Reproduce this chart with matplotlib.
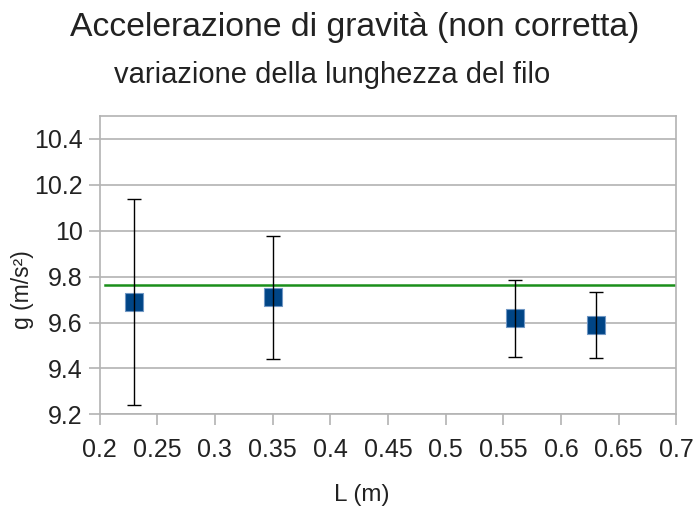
import numpy as np
import matplotlib
matplotlib.use('Agg')
import matplotlib.pyplot as plt

plt.rcParams['font.family'] = ['Liberation Sans', 'DejaVu Sans']

# Data
lengths = [0.23, 0.35, 0.56, 0.63]
g_values = [9.689, 9.710, 9.618, 9.588]
g_errors = [0.450, 0.267, 0.167, 0.143]
ref_x = [0.205, 0.70]
ref_g = [9.763, 9.763]

x_ticks = [0.2, 0.25, 0.3, 0.35, 0.4, 0.45, 0.5, 0.55, 0.6, 0.65, 0.7]
x_labels = ['0.2', '0.25', '0.3', '0.35', '0.4', '0.45', '0.5', '0.55', '0.6', '0.65', '0.7']
y_ticks = [9.2, 9.4, 9.6, 9.8, 10.0, 10.2, 10.4]
y_labels = ['9.2', '9.4', '9.6', '9.8', '10', '10.2', '10.4']

fig = plt.figure(figsize=(6.96, 5.08), dpi=100)
ax = fig.add_axes([0.143, 0.1844, 0.8287, 0.5873])

# grid and frame
grey = '#b3b3b3'
ax.set_axisbelow(True)
ax.yaxis.grid(True, color=grey, lw=1.2)
for s in ax.spines.values():
    s.set_color(grey)
    s.set_linewidth(1.2)

# reference line
ax.plot(ref_x, ref_g, color='#1a8f1a', lw=1.8, zorder=2)

# squares with error bars on top
ax.plot(lengths, g_values, 's', ms=13.5, mfc='#004586', mec='#7097c4',
        mew=0.8, zorder=3)
ax.errorbar(lengths, g_values, yerr=g_errors, fmt='none', ecolor='black',
            elinewidth=1, capsize=5, capthick=1, zorder=4)

ax.set_xlim(0.2, 0.7)
ax.set_ylim(9.2, 10.5)
ax.set_xticks(x_ticks)
ax.set_xticklabels(x_labels)
ax.set_yticks(y_ticks)
ax.set_yticklabels(y_labels)
ax.tick_params(direction='out', length=8, width=1.2, color=grey,
               labelsize=18, labelcolor='#222222', pad=4)
ax.tick_params(axis='x', pad=9)

# axis titles placed in figure coordinates
fig.text(0.52, 0.026, 'L (m)', ha='center', va='center', fontsize=17.5,
         color='#222222')
fig.text(0.033, 0.429, 'g (m/s²)', ha='center', va='center', rotation=90,
         fontsize=16.5, color='#222222')

fig.text(0.51, 0.945, 'Accelerazione di gravità (non corretta)', ha='center',
         va='center', fontsize=24.3, color='#222222')
fig.text(0.477, 0.852, 'variazione della lunghezza del filo', ha='center',
         va='center', fontsize=21, color='#222222')

fig.savefig('out.png', dpi=100)
